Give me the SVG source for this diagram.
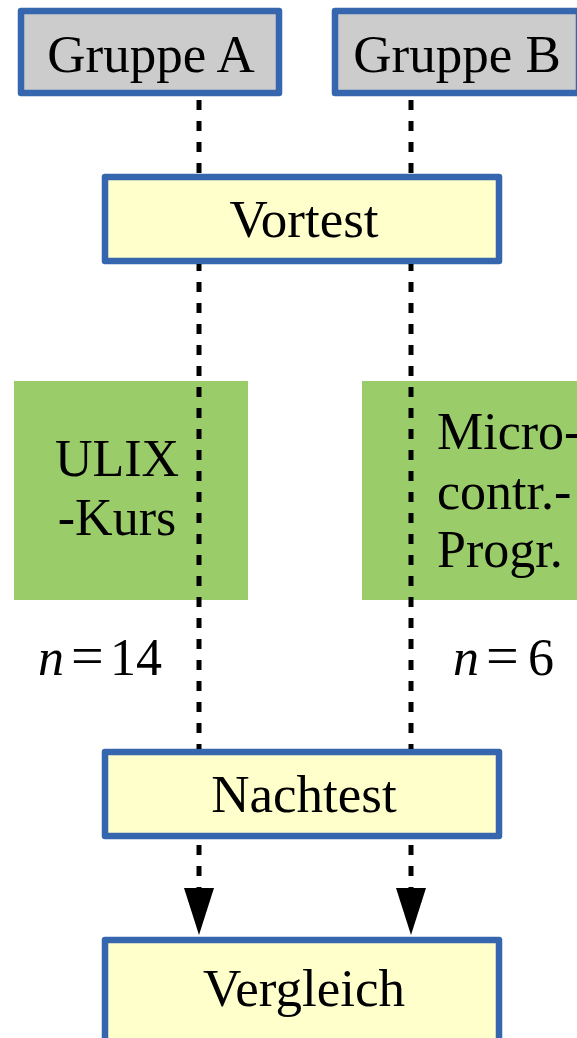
<svg xmlns="http://www.w3.org/2000/svg" width="577" height="1038" viewBox="0 0 577 1038">
  <defs>
    <style>
      .box { stroke: #3566ae; stroke-width: 6.5; stroke-linejoin: round; }
      .grp { fill: #cccccc; }
      .test { fill: #ffffcc; }
      .green { fill: #9acc6a; }
      .lbl { font-family: "Liberation Serif", "Times New Roman", serif; font-size: 52px; fill: #000000; }
      .big { font-size: 53px; }
      .mid { text-anchor: middle; }
      .conn { stroke: #000000; stroke-width: 5; stroke-dasharray: 10 11; fill: none; }
    </style>
    <marker id="arrow" markerUnits="userSpaceOnUse" viewBox="0 -15 47 30" markerWidth="47" markerHeight="30" refX="0" refY="0" orient="auto">
      <path d="M0,-15 L47,0 L0,15 Z" fill="#000000"/>
    </marker>
  </defs>
  <rect x="0" y="0" width="577" height="1038" fill="#ffffff"/>

  <g id="gruppe-a">
    <rect class="box grp" x="21" y="11" width="258" height="82"/>
    <text class="lbl big mid" x="151" y="72">Gruppe A</text>
  </g>
  <g id="gruppe-b">
    <rect class="box grp" x="335" y="11" width="244" height="82"/>
    <text class="lbl big mid" x="457" y="72">Gruppe B</text>
  </g>
  <g id="vortest">
    <rect class="box test" x="105" y="177" width="394" height="84"/>
    <text class="lbl big mid" x="304" y="237">Vortest</text>
  </g>
  <g id="ulix-kurs">
    <rect class="green" x="14" y="381" width="234" height="219"/>
    <text class="lbl mid" x="117" y="476">ULIX</text>
    <text class="lbl mid" x="117" y="535">-Kurs</text>
  </g>
  <g id="microcontr">
    <rect class="green" x="362" y="381" width="215" height="219"/>
    <text class="lbl" x="437" y="449">Micro-</text>
    <text class="lbl" x="437" y="509">contr.-</text>
    <text class="lbl" x="437" y="567">Progr.</text>
  </g>
  <g id="n-a">
    <text class="lbl" y="675"><tspan x="38" font-style="italic">n</tspan><tspan x="71" font-size="58">=</tspan><tspan x="110">14</tspan></text>
  </g>
  <g id="n-b">
    <text class="lbl" y="675"><tspan x="453" font-style="italic">n</tspan><tspan x="486" font-size="58">=</tspan><tspan x="528">6</tspan></text>
  </g>
  <g id="nachtest">
    <rect class="box test" x="105" y="752" width="394" height="84"/>
    <text class="lbl big mid" x="304" y="812">Nachtest</text>
  </g>
  <g id="vergleich">
    <rect class="box test" x="105" y="940" width="394" height="110"/>
    <text class="lbl big mid" x="304" y="1006">Vergleich</text>
  </g>

  <g id="connectors">
    <line class="conn" x1="199" y1="97" x2="199" y2="174" stroke-dashoffset="-3"/>
    <line class="conn" x1="411" y1="97" x2="411" y2="174" stroke-dashoffset="-3"/>
    <line class="conn" x1="199" y1="264" x2="199" y2="749" stroke-dashoffset="3"/>
    <line class="conn" x1="411" y1="264" x2="411" y2="749" stroke-dashoffset="3"/>
    <line class="conn" x1="199" y1="839" x2="199" y2="888" stroke-dashoffset="15" marker-end="url(#arrow)"/>
    <line class="conn" x1="411" y1="839" x2="411" y2="888" stroke-dashoffset="15" marker-end="url(#arrow)"/>
  </g>
</svg>
